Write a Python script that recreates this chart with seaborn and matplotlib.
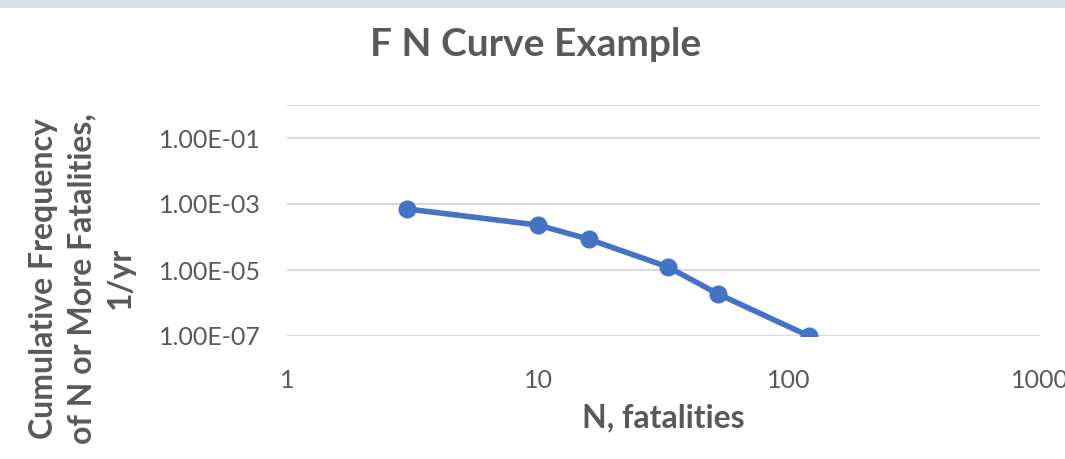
import matplotlib
matplotlib.use("Agg")
import matplotlib.pyplot as plt
import matplotlib.patches as patches
import seaborn as sns
import pandas as pd

# data
n_fatalities = [3, 10, 16, 33, 52, 120]
cum_freq = [7.1e-4, 2.3e-4, 8.5e-5, 1.23e-5, 1.9e-6, 1.0e-7]

y_ticks = [1e-7, 1e-5, 1e-3, 1e-1, 1e0]
y_tick_labels = ["1.00E-07", "1.00E-05", "1.00E-03", "1.00E-01", ""]
x_ticks = [1, 10, 100, 1000]
x_tick_labels = ["1", "10", "100", "1000"]

sns.set_style("white")
plt.rcParams['font.family'] = ['Lato', 'DejaVu Sans']

grey = "#595959"
blue = "#4472C4"

df = pd.DataFrame({"N": n_fatalities, "F": cum_freq})

fig = plt.figure(figsize=(10.65, 4.59), dpi=100)
fig.patch.set_facecolor("white")
# light band along the top edge
fig.add_artist(patches.Rectangle((0, 1 - 8 / 459), 1, 8 / 459,
                                 transform=fig.transFigure,
                                 color="#d8e0e3", lw=0))

ax = fig.add_axes([287 / 1065, 1 - 336 / 459, 753 / 1065, 231 / 459])
sns.lineplot(data=df, x="N", y="F", ax=ax, color=blue, lw=4,
             marker="o", markersize=13, markeredgewidth=0)

ax.set_xscale("log")
ax.set_yscale("log")
ax.set_xlim(1, 1000)
ax.set_ylim(1e-7, 1e0)

ax.set_yticks(y_ticks)
ax.set_yticklabels(y_tick_labels)
ax.set_xticks(x_ticks)
ax.set_xticklabels(x_tick_labels)
ax.minorticks_off()
ax.tick_params(axis="y", length=0, pad=19, labelsize=18, labelcolor=grey)
ax.tick_params(axis="x", length=0, pad=24, labelsize=18, labelcolor=grey)

ax.grid(axis="y", color="#d9d9d9", lw=1.5)
ax.grid(axis="x", visible=False)
ax.set_axisbelow(True)
sns.despine(ax=ax, left=True, bottom=True)

ax.set_xlabel("N, fatalities", fontsize=23, fontweight="bold", color=grey)
ax.xaxis.set_label_coords(0.5, -0.29)
ax.set_ylabel("Cumulative Frequency\nof N or More Fatalities,\n1/yr",
              fontsize=23, fontweight="bold", color=grey, linespacing=1.4)
ax.yaxis.set_label_coords(-0.202, 0.25)

fig.text(536 / 1065, 1 - 45 / 459, "F N Curve Example", ha="center",
         va="center", fontsize=28, fontweight="bold", color=grey)

fig.savefig("out.png", dpi=100)
